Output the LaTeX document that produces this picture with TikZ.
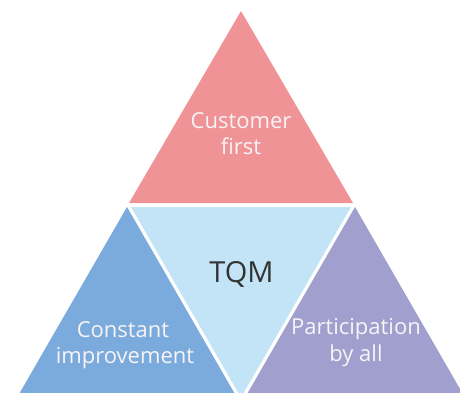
\documentclass[tikz,border=0pt]{standalone}
\usepackage{fontspec}
\setmainfont{Open Sans}
\definecolor{cpink}{HTML}{EF9397}
\definecolor{clight}{HTML}{C2E4F6}
\definecolor{cblue}{HTML}{7AABDC}
\definecolor{cpurple}{HTML}{A19FCD}
\definecolor{cdark}{HTML}{333333}
\definecolor{ctext}{HTML}{F8F4F6}
\tikzset{
  lbl/.style={text=ctext, font=\fontsize{22}{26}\selectfont, align=center, inner sep=0pt, anchor=base},
  tqm/.style={text=cdark, font=\fontsize{29}{30}\selectfont, inner sep=0pt, anchor=base}
}
\begin{document}
\begin{tikzpicture}[x=1pt,y=-1pt]
\useasboundingbox (0,0) rectangle (460,392);
\begin{scope}
\clip (0,0) rectangle (460,392);
\fill[cpink] (241,11) -- (129,203) -- (353,203) -- cycle;
\fill[clight] (131,207) -- (351,207) -- (241,397.5) -- cycle;
\fill[cblue] (127,207) -- (15.6,400) -- (238.4,400) -- cycle;
\fill[cpurple] (355,207) -- (243.6,400) -- (466.4,400) -- cycle;
\end{scope}
\node[lbl] (cf1) at (241,128) {Customer};
\node[lbl] (cf2) at (241,154) {first};
\node[tqm] (tqm) at (241.5,282) {TQM};
\node[lbl] (ci1) at (123,337) {Constant};
\node[lbl] (ci2) at (125,363) {improvement};
\node[lbl] (pa1) at (356,334) {Participation};
\node[lbl] (pa2) at (356,361) {by all};
\end{tikzpicture}
\end{document}
